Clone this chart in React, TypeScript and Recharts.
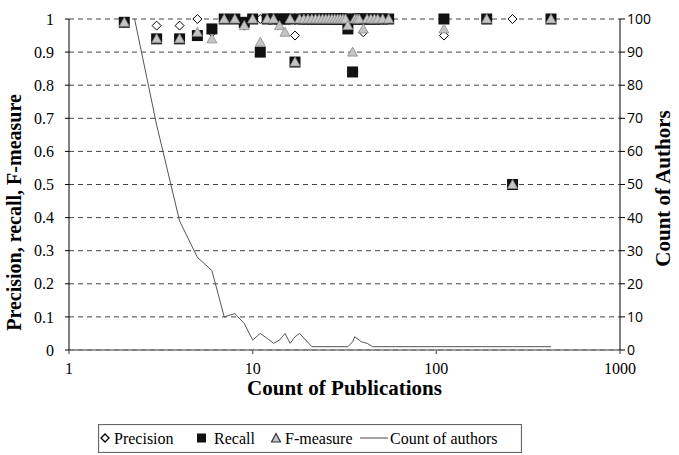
import React from 'react';
import {
  CartesianGrid,
  ComposedChart,
  Legend,
  Line,
  Scatter,
  XAxis,
  YAxis,
} from 'recharts';

// publication counts that have precision / recall / F-measure markers
const pubCounts = [
  2, 3, 4, 5, 6, 7, 8, 9, 10, 11, 12, 13, 14, 15, 16, 17, 18, 19, 20, 21, 22,
  23, 24, 25, 26, 27, 28, 29, 30, 31, 32, 33, 35, 36, 37, 38, 40, 42, 44, 46,
  48, 51, 55, 110, 188, 260, 421,
];
const precision = [
  0.99, 0.98, 0.98, 1, 0.96, 1, 1, 0.98, 1, 1, 1, 1, 1, 1, 1, 0.95, 1, 1, 1, 1,
  1, 1, 1, 1, 1, 1, 1, 1, 1, 1, 1, 1, 1, 1, 1, 1, 0.96, 1, 1, 1, 1, 1, 1, 0.95,
  1, 1, 1,
];
const recall = [
  0.99, 0.94, 0.94, 0.95, 0.97, 1, 1, 0.99, 1, 0.9, 1, 1, 1, 1, 1, 0.87, 1, 1,
  1, 1, 1, 1, 1, 1, 1, 1, 1, 1, 1, 1, 1, 0.97, 0.84, 1, 1, 1, 1, 1, 1, 1, 1, 1,
  1, 1, 1, 0.5, 1,
];
const fMeasure = [
  0.99, 0.94, 0.94, 0.96, 0.94, 1, 1, 0.98, 1, 0.93, 1, 1, 0.98, 0.96, 1, 0.87,
  1, 1, 1, 1, 1, 1, 1, 1, 1, 1, 1, 1, 1, 1, 1, 0.98, 0.9, 1, 1, 1, 0.97, 1, 1,
  1, 1, 1, 1, 0.97, 1, 0.5, 1,
];

// count of authors per publication count (right axis)
const authorPubCounts = [
  2, 3, 4, 5, 6, 7, 8, 9, 10, 11, 12, 13, 14, 15, 16, 17, 18, 21, 33, 35, 36,
  39, 42, 45, 60, 110, 188, 260, 421,
];
const authorCounts = [
  115, 68, 39, 28, 24, 10, 11, 8, 3, 5, 3.5, 2, 3, 5, 2, 4, 5, 1, 1, 2.5, 4,
  2.5, 2, 1, 1, 1, 1, 1, 1,
];

const xTicks = [1, 10, 100, 1000];
const leftTicks = [0, 0.1, 0.2, 0.3, 0.4, 0.5, 0.6, 0.7, 0.8, 0.9, 1];
const rightTicks = [0, 10, 20, 30, 40, 50, 60, 70, 80, 90, 100];

const SERIF = '"Liberation Serif", "Times New Roman", serif';
const SANS = '"Open Sans", "Noto Sans", sans-serif';

const precisionData = pubCounts.map((x, i) => ({ x, y: precision[i] }));
const recallData = pubCounts.map((x, i) => ({ x, y: recall[i] }));
const fData = pubCounts.map((x, i) => ({ x, y: fMeasure[i] }));
const authorData = authorPubCounts.map((x, i) => ({ x, authors: authorCounts[i] }));

const Diamond = ({ cx, cy }: any) => (
  <path
    d={`M${cx},${cy - 4.5}L${cx + 4.5},${cy}L${cx},${cy + 4.5}L${cx - 4.5},${cy}Z`}
    fill="#fff"
    stroke="#000"
    strokeWidth={1}
  />
);

const Square = ({ cx, cy }: any) => (
  <rect x={cx - 5.5} y={cy - 5.5} width={11} height={11} fill="#111" />
);

const Triangle = ({ cx, cy }: any) => (
  <path
    d={`M${cx},${cy - 5}L${cx + 5},${cy + 4}L${cx - 5},${cy + 4}Z`}
    fill="#c4c4c4"
    stroke="#8a8a8a"
    strokeWidth={0.8}
  />
);

const LegendBox = () => (
  <svg width={424} height={29} style={{ display: 'block' }}>
    <rect x={0.5} y={0.5} width={423} height={28} fill="#fff" stroke="#666" strokeWidth={1.2} />
    <g fontFamily={SERIF} fontSize={16} fill="#000">
      <path d="M7,10L11,14L7,18L3,14Z" fill="#fff" stroke="#000" strokeWidth={1.3} />
      <text x={16} y={19.5}>Precision</text>
      <rect x={99} y={9.5} width={9} height={9} fill="#111" />
      <text x={116} y={19.5}>Recall</text>
      <path d="M178,9.5L182.5,18L173.5,18Z" fill="#c4c4c4" stroke="#333" strokeWidth={1.2} />
      <text x={187} y={19.5}>F-measure</text>
      <line x1={262} y1={14} x2={290} y2={14} stroke="#444" strokeWidth={1} />
      <text x={292} y={19.5}>Count of authors</text>
    </g>
  </svg>
);

const LeftTitle = ({ viewBox }: any) => {
  const cy = viewBox.y + viewBox.height / 2 + 28;
  return (
    <text
      x={14}
      y={cy}
      transform={`rotate(-90, 14, ${cy})`}
      textAnchor="middle"
      dominantBaseline="central"
      fontFamily={SERIF}
      fontWeight="bold"
      fontSize={20}
      fill="#000"
    >
      Precision, recall, F-measure
    </text>
  );
};

const RightTitle = ({ viewBox }: any) => {
  const cy = viewBox.y + viewBox.height / 2 + 4;
  return (
    <text
      x={663}
      y={cy}
      transform={`rotate(-90, 663, ${cy})`}
      textAnchor="middle"
      dominantBaseline="central"
      fontFamily={SERIF}
      fontWeight="bold"
      fontSize={21}
      fill="#000"
    >
      Count of Authors
    </text>
  );
};

export default function App() {
  return (
    <div style={{ position: 'absolute', left: 0, top: 0, width: 679, height: 455, background: '#fff' }}>
      <ComposedChart width={679} height={455} margin={{ top: 19, right: 0, bottom: 45, left: 0 }}>
        <CartesianGrid
          yAxisId="l"
          vertical={false}
          stroke="#444"
          strokeDasharray="5 4"
        />
        <XAxis
          dataKey="x"
          type="number"
          scale="log"
          domain={[1, 1000]}
          ticks={xTicks}
          allowDataOverflow
          height={60}
          tickSize={4}
          tickMargin={9}
          stroke="#777"
          strokeWidth={1.5}
          tick={{ fill: '#000', fontFamily: SERIF, fontSize: 16 }}
          label={{
            value: 'Count of Publications',
            position: 'insideBottom',
            offset: 15,
            fill: '#000',
            fontFamily: SERIF,
            fontWeight: 'bold',
            fontSize: 21,
          }}
        />
        <YAxis
          yAxisId="l"
          orientation="left"
          type="number"
          domain={[0, 1]}
          ticks={leftTicks}
          width={69}
          tickSize={4}
          tickMargin={11}
          stroke="#000"
          tick={{ fill: '#000', fontFamily: SERIF, fontSize: 16 }}
          label={<LeftTitle />}
        />
        <YAxis
          yAxisId="r"
          orientation="right"
          type="number"
          domain={[0, 100]}
          ticks={rightTicks}
          allowDataOverflow
          width={59}
          tickSize={5}
          tickMargin={2}
          stroke="#000"
          tick={{ fill: '#000', fontFamily: SANS, fontSize: 14 }}
          label={<RightTitle />}
        />
        <Line
          yAxisId="r"
          data={authorData}
          dataKey="authors"
          type="linear"
          stroke="#555"
          strokeWidth={1}
          dot={false}
          activeDot={false}
          isAnimationActive={false}
          legendType="none"
        />
        <Scatter
          yAxisId="l"
          name="Precision"
          data={precisionData}
          dataKey="y"
          shape={<Diamond />}
          isAnimationActive={false}
        />
        <Scatter
          yAxisId="l"
          name="Recall"
          data={recallData}
          dataKey="y"
          shape={<Square />}
          isAnimationActive={false}
        />
        <Scatter
          yAxisId="l"
          name="F-measure"
          data={fData}
          dataKey="y"
          shape={<Triangle />}
          isAnimationActive={false}
        />
        <Legend
          layout="vertical"
          align="center"
          verticalAlign="middle"
          content={<LegendBox />}
          wrapperStyle={{ left: 98, top: 424, width: 424, height: 29 }}
        />
      </ComposedChart>
    </div>
  );
}
